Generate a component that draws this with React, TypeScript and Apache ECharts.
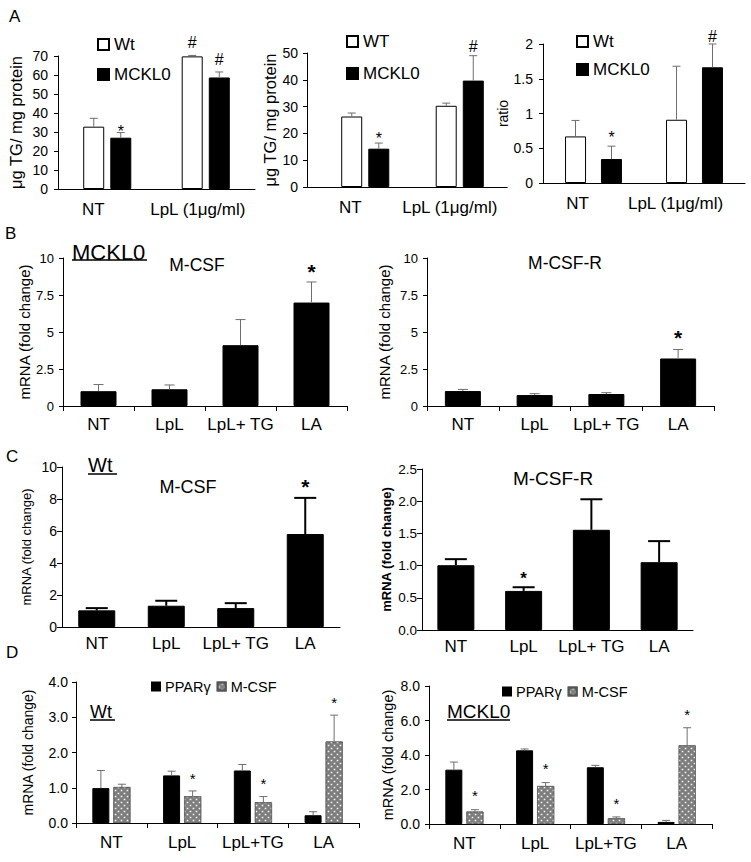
import React, { useEffect, useRef } from 'react';
import * as echarts from 'echarts';

const FONT = '"Liberation Sans", Arial, Helvetica, sans-serif';
const GREY = '#6e6e6e';

// ---------- Panel A ----------
const catsA = ['NT', 'LpL (1μg/ml)'];
const a1Wt = [32.8, 69.8];
const a1WtTop = [37.2, 70.3];
const a1WtSig = ['', '#'];
const a1Mk = [27.0, 58.7];
const a1MkTop = [29.7, 61.6];
const a1MkSig = ['*', '#'];

const a2Wt = [26.3, 30.3];
const a2WtTop = [27.6, 31.3];
const a2WtSig = ['', ''];
const a2Mk = [14.3, 39.7];
const a2MkTop = [16.4, 49.0];
const a2MkSig = ['*', '#'];

const a3Wt = [0.67, 0.91];
const a3WtTop = [0.9, 1.68];
const a3WtSig = ['', ''];
const a3Mk = [0.345, 1.665];
const a3MkTop = [0.53, 2.0];
const a3MkSig = ['*', '#'];

// ---------- Panels B, C ----------
const catsBC = ['NT', 'LpL', 'LpL+ TG', 'LA'];
const b1Vals = [1.0, 1.13, 4.11, 6.99];
const b1Top = [1.45, 1.42, 5.84, 8.38];
const b1Sig = ['', '', '', '*'];
const b2Vals = [1.01, 0.74, 0.81, 3.21];
const b2Top = [1.12, 0.83, 0.9, 3.82];
const b2Sig = ['', '', '', '*'];
const c1Vals = [1.04, 1.33, 1.18, 5.81];
const c1Top = [1.18, 1.64, 1.49, 8.07];
const c1Sig = ['', '', '', '*'];
const c2Vals = [1.006, 0.607, 1.556, 1.053];
const c2Top = [1.1, 0.664, 2.03, 1.38];
const c2Sig = ['', '*', '', ''];

// ---------- Panel D ----------
const catsD = ['NT', 'LpL', 'LpL+TG', 'LA'];
const d1Ppar = [0.99, 1.35, 1.49, 0.22];
const d1PparTop = [1.49, 1.47, 1.66, 0.32];
const d1PparSig = ['', '', '', ''];
const d1Mcsf = [1.02, 0.76, 0.59, 2.31];
const d1McsfTop = [1.1, 0.91, 0.75, 3.06];
const d1McsfSig = ['', '*', '*', '*'];
const d2Ppar = [3.15, 4.27, 3.29, 0.12];
const d2PparTop = [3.59, 4.35, 3.4, 0.21];
const d2PparSig = ['', '', '', ''];
const d2Mcsf = [0.72, 2.2, 0.33, 4.56];
const d2McsfTop = [0.83, 2.4, 0.41, 5.58];
const d2McsfSig = ['*', '*', '*', '*'];

const YNAME_A = 'μg TG/ mg protein';
const YNAME_M = 'mRNA (fold change)';

function xCat(gi: number, data: string[], fs: number, margin: number, ticks: boolean, shifts?: number[]) {
  const axisLabel: any = { color: '#000', fontSize: fs, fontFamily: FONT, margin, interval: 0 };
  if (shifts) {
    const rich: any = {};
    shifts.forEach((s, i) => {
      rich['s' + i] = {
        fontSize: fs, fontFamily: FONT, color: '#000',
        padding: s >= 0 ? [0, 2 * s, 0, 0] : [0, 0, 0, -2 * s],
      };
    });
    axisLabel.formatter = (v: string, i: number) => `{s${i}|${v}}`;
    axisLabel.rich = rich;
  }
  return {
    type: 'category', gridIndex: gi, data,
    axisLine: { show: true, lineStyle: { color: '#000', width: 1 } },
    axisTick: ticks ? { show: true, length: 5, lineStyle: { color: '#000', width: 1 } } : { show: false },
    axisLabel, splitLine: { show: false },
  };
}

function yVal(gi: number, max: number, interval: number, o: any) {
  return {
    type: 'value', gridIndex: gi, min: 0, max, interval,
    offset: o.offset || 0,
    axisLine: { show: true, lineStyle: { color: '#000', width: 1 } },
    axisTick: { show: true, length: o.tick || 4, lineStyle: { color: '#000', width: 1 } },
    splitLine: { show: false },
    axisLabel: { color: '#000', fontSize: o.fs, fontFamily: FONT, margin: o.margin, formatter: o.fmt },
    name: o.name, nameLocation: 'middle', nameGap: o.nameGap, nameRotate: 90,
    nameTextStyle: { fontSize: o.nameFs, fontFamily: FONT, color: '#000', fontWeight: o.nameBold ? 'bold' : 'normal' },
  };
}

function bar(name: string, gi: number, data: number[], color: string, width: number, gap: string, extra: any = {}) {
  return {
    type: 'bar', name, xAxisIndex: gi, yAxisIndex: gi, data, barWidth: width, barGap: gap, silent: true,
    itemStyle: { color, borderColor: '#000', borderWidth: 1, ...extra },
  };
}

function err(gi: number, vals: number[], tops: number[], sigs: string[], o: any) {
  return {
    type: 'custom', xAxisIndex: gi, yAxisIndex: gi, silent: true, z: 5,
    data: vals.map((v, i) => [i, v, tops[i]]),
    renderItem: (params: any, api: any) => {
      const i = params.dataIndex;
      const b = api.coord([api.value(0), api.value(1)]);
      const t = api.coord([api.value(0), api.value(2)]);
      const x = b[0] + o.offset;
      const ch: any[] = [
        { type: 'line', shape: { x1: x, y1: b[1], x2: x, y2: t[1] }, style: { stroke: o.color, lineWidth: o.lw } },
        { type: 'line', shape: { x1: x - o.cap / 2, y1: t[1], x2: x + o.cap / 2, y2: t[1] }, style: { stroke: o.color, lineWidth: o.lw } },
      ];
      const s = sigs[i];
      if (s) {
        const gap = o.gaps[s] ?? 8;
        const y = t[1] - gap + (s === '*' ? 0.22 * o.sigFs : 0);
        ch.push({
          type: 'text', x, y,
          style: {
            text: s, fontSize: o.sigFs, fontFamily: FONT, fontWeight: o.sigBold ? 'bold' : 'normal', fill: '#000',
            align: 'center', verticalAlign: 'middle', textAlign: 'center', textVerticalAlign: 'middle',
          },
        });
      }
      return { type: 'group', children: ch };
    },
  };
}

const txt = (x: number, y: number, text: string, fs: number, align = 'left', vAlign = 'top', weight = 'normal') => ({
  type: 'text', x, y, silent: true,
  style: {
    text, fontSize: fs, fontFamily: FONT, fontWeight: weight, fill: '#000',
    align, verticalAlign: vAlign, textAlign: align, textVerticalAlign: vAlign,
  },
});
const uline = (x1: number, x2: number, y: number) => ({
  type: 'line', silent: true, shape: { x1, y1: y, x2, y2: y }, style: { stroke: '#000', lineWidth: 1.5 },
});

const mcsfDecal = {
  symbol: 'rect', symbolSize: 0.55, color: 'rgba(255,255,255,0.9)',
  dashArrayX: [[3, 3], [0, 3, 3, 0]], dashArrayY: [3, 0], rotation: 0,
};

function buildOption() {
  const grid = [
    { left: 58, top: 56, width: 197, height: 133 },   // 0 A1
    { left: 318, top: 53, width: 189, height: 134 },  // 1 A2
    { left: 543, top: 44, width: 202, height: 139 },  // 2 A3
    { left: 63, top: 258, width: 284, height: 148 },  // 3 B1
    { left: 427, top: 258, width: 287, height: 148 }, // 4 B2
    { left: 62, top: 467, width: 278, height: 160 },  // 5 C1
    { left: 422, top: 469, width: 271, height: 161 }, // 6 C2
    { left: 76, top: 682, width: 283, height: 141 },  // 7 D1
    { left: 429, top: 686, width: 283, height: 138 }, // 8 D2
    { left: 307, top: 53, width: 200, height: 134 },  // 9 A2 axis-line extension
  ];

  const fmt1 = (v: number) => v.toFixed(1);
  const xAxis = [
    xCat(0, catsA, 17, 12, false, [14, 8]),
    xCat(1, catsA, 17, 12, false, [15, 10]),
    xCat(2, catsA, 17, 12, false, [16, 19]),
    xCat(3, catsBC, 17, 10, true),
    xCat(4, catsBC, 17, 10, true),
    xCat(5, catsBC, 17, 8, false),
    xCat(6, catsBC, 17, 8, false),
    xCat(7, catsD, 17, 11, true),
    xCat(8, catsD, 17, 11, true),
    { type: 'category', gridIndex: 9, data: ['', ''], axisLine: { show: true, lineStyle: { color: '#000' } }, axisTick: { show: false }, axisLabel: { show: false } },
  ];
  const yAxis = [
    yVal(0, 70, 10, { fs: 14, margin: 10, name: YNAME_A, nameFs: 16.5, nameGap: 34 }),
    yVal(1, 50, 10, { fs: 14, margin: 9, name: YNAME_A, nameFs: 16.5, nameGap: 24, offset: 11 }),
    yVal(2, 2, 0.5, { fs: 14, margin: 10, name: 'ratio', nameFs: 14, nameGap: 32 }),
    yVal(3, 10, 2.5, { fs: 13, margin: 9, name: YNAME_M, nameFs: 15, nameGap: 30 }),
    yVal(4, 10, 2.5, { fs: 13, margin: 9, name: YNAME_M, nameFs: 15, nameGap: 35 }),
    yVal(5, 10, 2, { fs: 14, margin: 5, name: YNAME_M, nameFs: 13, nameGap: 29, tick: 5 }),
    yVal(6, 2.5, 0.5, { fs: 13.5, margin: 5, name: YNAME_M, nameFs: 13, nameGap: 29, tick: 5, nameBold: true, fmt: fmt1 }),
    yVal(7, 4, 1, { fs: 14, margin: 8, name: YNAME_M, nameFs: 14, nameGap: 41, fmt: fmt1 }),
    yVal(8, 8, 2, { fs: 14, margin: 9, name: YNAME_M, nameFs: 14.5, nameGap: 34, fmt: fmt1 }),
    { type: 'value', gridIndex: 9, min: 0, max: 1, show: false },
  ];

  const errA = (off: number, gaps: any) => ({ offset: off, color: GREY, lw: 1, cap: 8, sigFs: 16, gaps });
  const errB = { offset: 0, color: GREY, lw: 1, cap: 10, sigFs: 21, sigBold: true, gaps: { '*': 15 } };
  const errC = (g: number, f: number) => ({ offset: 0, color: '#000', lw: 2, cap: 22, sigFs: f, sigBold: true, gaps: { '*': g } });
  const errD = (off: number, g: number) => ({ offset: off, color: GREY, lw: 1, cap: 8, sigFs: 15, gaps: { '*': g } });

  const wtStyle = { borderColor: '#000', borderWidth: 1 };
  const mcsfStyle = { borderColor: '#555', borderWidth: 0.6, decal: mcsfDecal };
  const series: any[] = [
    // A1
    bar('Wt', 0, a1Wt, '#fff', 21, '29%', wtStyle),
    bar('MCKL0', 0, a1Mk, '#000', 21, '29%'),
    err(0, a1Wt, a1WtTop, a1WtSig, errA(-13.5, { '*': 5, '#': 13 })),
    err(0, a1Mk, a1MkTop, a1MkSig, errA(13.5, { '*': 5, '#': 12 })),
    // A2
    bar('WT', 1, a2Wt, '#fff', 21, '29%', wtStyle),
    bar('MCKL0', 1, a2Mk, '#000', 21, '29%'),
    err(1, a2Wt, a2WtTop, a2WtSig, errA(-13.5, { '*': 8, '#': 9 })),
    err(1, a2Mk, a2MkTop, a2MkSig, errA(13.5, { '*': 8, '#': 9 })),
    // A3
    bar('Wt', 2, a3Wt, '#fff', 21, '71%', wtStyle),
    bar('MCKL0', 2, a3Mk, '#000', 21, '71%'),
    err(2, a3Wt, a3WtTop, a3WtSig, errA(-18, { '*': 12, '#': 8 })),
    err(2, a3Mk, a3MkTop, a3MkSig, errA(18, { '*': 12, '#': 8 })),
    // B
    bar('B1', 3, b1Vals, '#000', 36, '0%'),
    err(3, b1Vals, b1Top, b1Sig, errB),
    bar('B2', 4, b2Vals, '#000', 36, '0%'),
    err(4, b2Vals, b2Top, b2Sig, { ...errB, gaps: { '*': 16.5 } }),
    // C
    bar('C1', 5, c1Vals, '#000', 37, '0%'),
    err(5, c1Vals, c1Top, c1Sig, errC(16, 21)),
    bar('C2', 6, c2Vals, '#000', 37, '0%'),
    err(6, c2Vals, c2Top, c2Sig, errC(12, 17)),
    // D1
    bar('PPARγ', 7, d1Ppar, '#000', 17, '24%'),
    bar('M-CSF', 7, d1Mcsf, '#7d7d7d', 17, '24%', mcsfStyle),
    err(7, d1Ppar, d1PparTop, d1PparSig, errD(-10.5, 16)),
    err(7, d1Mcsf, d1McsfTop, d1McsfSig, errD(10.5, 16)),
    // D2
    bar('PPARγ', 8, d2Ppar, '#000', 17, '24%'),
    bar('M-CSF', 8, d2Mcsf, '#7d7d7d', 17, '24%', mcsfStyle),
    err(8, d2Ppar, d2PparTop, d2PparSig, errD(-10.5, 17)),
    err(8, d2Mcsf, d2McsfTop, d2McsfSig, errD(10.5, 17)),
  ];

  const legBase = {
    orient: 'vertical', icon: 'rect', itemWidth: 11, itemHeight: 11, selectedMode: false,
    textStyle: { fontSize: 17, fontFamily: FONT, color: '#000' },
  };
  const legD = {
    orient: 'horizontal', icon: 'rect', itemWidth: 8, itemHeight: 8, itemGap: 6, selectedMode: false,
    textStyle: { fontSize: 14.5, fontFamily: FONT, color: '#000' }, data: ['PPARγ', 'M-CSF'],
  };
  const legend = [
    { ...legBase, left: 92, top: 31, itemGap: 13, data: ['Wt', 'MCKL0'] },
    { ...legBase, left: 341, top: 28, itemGap: 15, data: ['WT', 'MCKL0'] },
    { ...legBase, left: 571, top: 28, itemGap: 11, data: ['Wt', 'MCKL0'] },
    { ...legD, left: 146, top: 674 },
    { ...legD, left: 497, top: 679 },
  ];

  const graphic = [
    txt(9, 8, 'A', 17),
    txt(5, 225, 'B', 17),
    txt(72, 241, 'MCKL0', 22), uline(72, 147, 260),
    txt(197, 265, 'M-CSF', 17.5, 'center', 'middle'),
    txt(565, 263, 'M-CSF-R', 17.5, 'center', 'middle'),
    txt(6, 448, 'C', 17),
    txt(88, 455, 'Wt', 20), uline(88, 117, 474),
    txt(188, 487, 'M-CSF', 18, 'center', 'middle'),
    txt(553, 478, 'M-CSF-R', 19, 'center', 'middle'),
    txt(6, 644, 'D', 17),
    txt(90, 703, 'Wt', 18), uline(90, 115, 720),
    txt(447, 702, 'MCKL0', 19), uline(447, 510, 720),
  ];

  return {
    animation: false,
    backgroundColor: '#fff',
    textStyle: { fontFamily: FONT },
    grid, xAxis, yAxis, series, legend, graphic,
  };
}

export default function App() {
  const ref = useRef<HTMLDivElement>(null);
  useEffect(() => {
    if (!ref.current) return;
    const chart = echarts.init(ref.current, undefined, { renderer: 'svg' });
    chart.setOption(buildOption() as any);
    return () => chart.dispose();
  }, []);
  return (
    <div
      ref={ref}
      style={{ position: 'absolute', left: 0, top: 0, width: 751, height: 862, background: '#fff' }}
    />
  );
}
